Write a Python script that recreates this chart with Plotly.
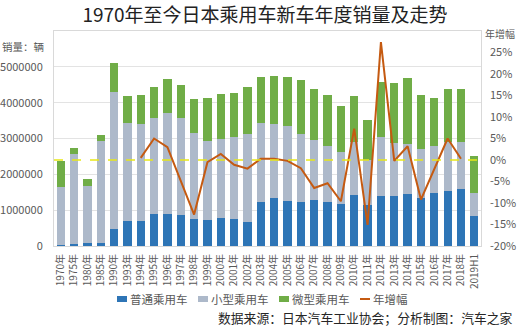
import plotly.graph_objects as go

# ---- data -------------------------------------------------------------
years = [
    "1970年", "1975年", "1980年", "1985年", "1990年",
    "1993年", "1994年", "1995年", "1996年", "1997年", "1998年", "1999年",
    "2000年", "2001年", "2002年", "2003年", "2004年", "2005年", "2006年",
    "2007年", "2008年", "2009年", "2010年", "2011年", "2012年", "2013年",
    "2014年", "2015年", "2016年", "2017年", "2018年", "2019H1",
]

# 普通乘用车 (standard passenger cars), units
standard_cars = [
    30000, 65000, 90000, 90000, 470000,
    690000, 700000, 900000, 890000, 860000, 760000, 730000,
    770000, 740000, 680000, 1230000, 1350000, 1260000, 1220000,
    1280000, 1240000, 1160000, 1420000, 1140000, 1400000, 1400000,
    1440000, 1340000, 1490000, 1540000, 1580000, 840000,
]

# 小型乘用车 (small passenger cars), units
small_cars = [
    1620000, 2495000, 1580000, 2830000, 3840000,
    2730000, 2700000, 2660000, 2810000, 2710000, 2380000, 2190000,
    2210000, 2290000, 2450000, 2190000, 2050000, 2090000, 1910000,
    1670000, 1550000, 1470000, 1490000, 1260000, 1630000, 1480000,
    1420000, 1360000, 1310000, 1360000, 1320000, 650000,
]

# 微型乘用车 (kei / mini passenger cars), units
mini_cars = [
    730000, 170000, 190000, 180000, 790000,
    770000, 810000, 880000, 960000, 910000, 950000, 1220000,
    1270000, 1250000, 1310000, 1290000, 1350000, 1380000, 1500000,
    1440000, 1430000, 1280000, 1290000, 1130000, 1550000, 1680000,
    1830000, 1520000, 1340000, 1480000, 1480000, 1010000,
]

# 年增幅 (year-on-year change, %), only shown from 1994 to 2018
growth_pct = [
    None, None, None, None, None,
    None, 0.5, 5.0, 3.0, -4.8, -12.7, -0.5,
    1.4, -1.1, -2.0, 0.3, 0.3, -0.2, -1.9,
    -6.5, -5.4, -9.6, 7.3, -15.1, 27.4, -0.2,
    3.2, -9.2, -2.1, 5.0, 0.3, None,
]

sales_ticks = [0, 1000000, 2000000, 3000000, 4000000, 5000000]
growth_ticks = [-20, -15, -10, -5, 0, 5, 10, 15, 20, 25]

# ---- styling ----------------------------------------------------------
W, H = 521, 328
L, R, T, B = 54, 40, 31, 82
FONT = "Noto Sans CJK SC, Microsoft YaHei, sans-serif"
AXIS_GREY = "#595959"

COL_STANDARD = "#2E75B6"
COL_SMALL = "#ADB9CA"
COL_MINI = "#70AD47"
COL_GROWTH = "#C55A11"


def px_x(px):
    """pixel x (from left of page) -> paper x"""
    return (px - L) / (W - L - R)


def px_y(py):
    """pixel y (from top of page) -> paper y"""
    return (H - B - py) / (H - T - B)


fig = go.Figure()

series = [
    ("普通乘用车", standard_cars, COL_STANDARD),
    ("小型乘用车", small_cars, COL_SMALL),
    ("微型乘用车", mini_cars, COL_MINI),
]
for name, vals, col in series:
    fig.add_trace(go.Bar(
        x=years, y=vals, name=name, marker=dict(color=col, line=dict(width=0)),
        showlegend=False,
    ))

fig.add_trace(go.Scatter(
    x=years, y=growth_pct, name="年增幅", yaxis="y2", mode="lines",
    line=dict(color=COL_GROWTH, width=2), connectgaps=False, showlegend=False,
))

# zero-growth reference line
fig.add_shape(
    type="line", xref="paper", x0=0, x1=1, yref="y2", y0=0, y1=0,
    line=dict(color="#E8E817", width=1.6, dash="dash"), layer="above",
)

# ---- legend drawn along the bottom -----------------------------------
legend_items = [
    ("普通乘用车", COL_STANDARD, "box"),
    ("小型乘用车", COL_SMALL, "box"),
    ("微型乘用车", COL_MINI, "box"),
    ("年增幅", COL_GROWTH, "line"),
]
LEG_FS = 11.5
leg_x = 117.0
leg_y = 299.0
for name, col, kind in legend_items:
    if kind == "box":
        fig.add_shape(
            type="rect", xref="paper", yref="paper",
            x0=px_x(leg_x), x1=px_x(leg_x + 10),
            y0=px_y(leg_y + 3), y1=px_y(leg_y - 3),
            fillcolor=col, line=dict(width=0),
        )
    else:
        fig.add_shape(
            type="line", xref="paper", yref="paper",
            x0=px_x(leg_x), x1=px_x(leg_x + 10),
            y0=px_y(leg_y), y1=px_y(leg_y),
            line=dict(color=col, width=2),
        )
    fig.add_annotation(
        text=name, xref="paper", yref="paper",
        x=px_x(leg_x + 11), y=px_y(leg_y), xanchor="left", yanchor="middle",
        showarrow=False, font=dict(size=LEG_FS, color=AXIS_GREY, family=FONT),
    )
    leg_x += 11 + len(name) * LEG_FS + 12.5

# ---- axis captions and source note -----------------------------------
fig.add_annotation(
    text="销量：辆", xref="paper", yref="paper",
    x=px_x(46), y=px_y(46), xanchor="right", yanchor="middle",
    showarrow=False, font=dict(size=10.5, color=AXIS_GREY, family=FONT),
)
fig.add_annotation(
    text="年增幅", xref="paper", yref="paper",
    x=px_x(483), y=px_y(34), xanchor="left", yanchor="middle",
    showarrow=False, font=dict(size=10, color=AXIS_GREY, family=FONT),
)
fig.add_annotation(
    text="数据来源：日本汽车工业协会；分析制图：汽车之家", xref="paper", yref="paper",
    x=px_x(515), y=px_y(317), xanchor="right", yanchor="middle",
    showarrow=False, font=dict(size=12.8, color="#262626", family=FONT),
)

fig.update_layout(
    width=W, height=H,
    margin=dict(l=L, r=R, t=T, b=B, autoexpand=False),
    paper_bgcolor="white", plot_bgcolor="white",
    barmode="stack", bargap=0.38,
    font=dict(family=FONT, color=AXIS_GREY),
    title=dict(
        text="1970年至今日本乘用车新车年度销量及走势",
        xref="container", yref="container",
        x=265 / W, y=1 - 15 / H, xanchor="center", yanchor="middle",
        font=dict(size=19, color="#222222", family=FONT),
    ),
    xaxis=dict(
        type="category", tickangle=-90, tickfont=dict(size=10, color=AXIS_GREY),
        showline=True, linecolor="#D9D9D9", linewidth=1, mirror=True,
        ticks="", ticklabelstandoff=3, range=[-0.5, len(years) - 0.5],
    ),
    yaxis=dict(
        range=[0, 6000000], tickvals=sales_ticks,
        ticktext=[str(v) for v in sales_ticks],
        tickfont=dict(size=11, color=AXIS_GREY),
        showgrid=True, gridcolor="#E3E3E3", gridwidth=1,
        showline=True, linecolor="#D9D9D9", mirror=True,
        zeroline=False, ticks="", ticklabelstandoff=8,
    ),
    yaxis2=dict(
        overlaying="y", side="right", range=[-20, 30],
        tickvals=growth_ticks, ticktext=[f"{v}%" for v in growth_ticks],
        tickfont=dict(size=11, color=AXIS_GREY),
        showgrid=False, zeroline=False, ticks="", ticklabelstandoff=8,
    ),
)

fig.write_html("out.html")
